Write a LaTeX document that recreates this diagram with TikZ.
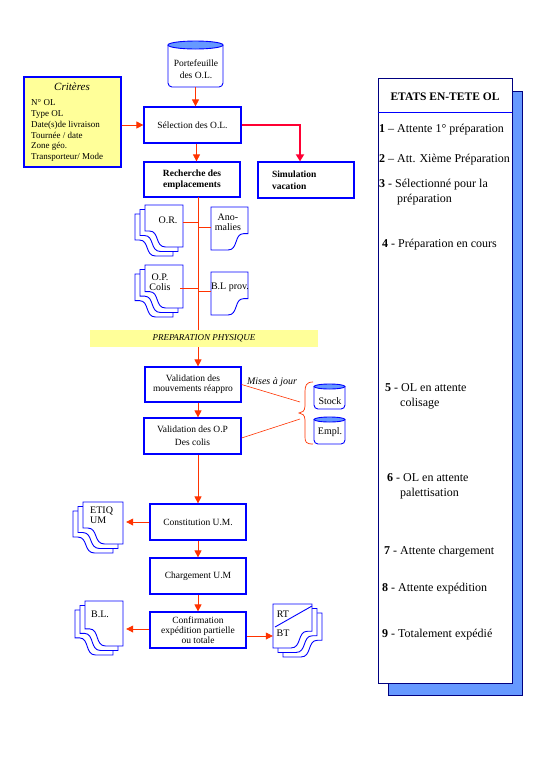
\documentclass[tikz,border=0pt]{standalone}
\usepackage{fontspec}
\setmainfont{Liberation Serif}
\usetikzlibrary{arrows.meta}

\definecolor{boxblue}{HTML}{0000FF}
\definecolor{flowred}{HTML}{FF3300}
\definecolor{simred}{HTML}{FF0033}
\definecolor{paleyellow}{HTML}{FFFF99}
\definecolor{capblue}{HTML}{6699FF}
\definecolor{panelnavy}{HTML}{000080}

% sheet of paper, curl at the bottom right (x, y of top left corner, width, height)
\newcommand\sheetR[4]{%
  \draw[sheetline] (#1,#2) -- (#1+#3,#2) -- (#1+#3,#2+0.62*#4)
    -- (#1+0.88*#3,#2+0.62*#4)
    .. controls (#1+0.62*#3,#2+0.62*#4) and (#1+0.74*#3,#2+#4) .. (#1+0.46*#3,#2+#4)
    -- (#1,#2+#4) -- cycle;}
% sheet of paper, curl at the bottom left
\newcommand\sheetL[4]{%
  \draw[sheetline] (#1,#2) -- (#1+#3,#2) -- (#1+#3,#2+#4)
    -- (#1+0.54*#3,#2+#4)
    .. controls (#1+0.26*#3,#2+#4) and (#1+0.38*#3,#2+0.62*#4) .. (#1+0.12*#3,#2+0.62*#4)
    -- (#1,#2+0.62*#4) -- cycle;}
% pile of three sheets, the back ones shifted left and down
\newcommand\pileL[4]{%
  \sheetL{#1-10}{#2+9}{#3}{#4}\sheetL{#1-5}{#2+4.5}{#3}{#4}\sheetL{#1}{#2}{#3}{#4}}
% pile of three sheets, the back ones shifted right and down
\newcommand\pileR[4]{%
  \sheetR{#1+10}{#2+9}{#3}{#4}\sheetR{#1+5}{#2+4.5}{#3}{#4}\sheetR{#1}{#2}{#3}{#4}}
% storage drum (x1, y1, x2, y2, half height of the lid)
\newcommand\drum[5]{%
  \draw[drumline, rounded corners=4pt] (#1,#2+#5) -- (#1,#4) -- (#3,#4) -- (#3,#2+#5);
  \draw[drumline, fill=capblue] ({(#1+#3)/2},#2+#5) ellipse [x radius={(#3-#1)/2}, y radius=#5];}

\begin{document}
\begin{tikzpicture}[x=1pt,y=-1pt,
  stepbox/.style={draw=boxblue, line width=1.2pt, fill=white, minimum width=96pt,
    minimum height=36pt, inner sep=1pt, align=center, font=\fontsize{9.5}{11}\selectfont},
  flow/.style={draw=flowred, line width=0.8pt, -{Triangle[width=7pt,length=7pt]}},
  simflow/.style={draw=simred, line width=1.8pt, -{Triangle[width=8pt,length=7pt]}},
  link/.style={draw=flowred, line width=0.7pt},
  sheetline/.style={draw=boxblue, line width=0.9pt, fill=white},
  drumline/.style={draw=boxblue, line width=0.9pt, fill=white},
  docarea/.style={inner sep=0pt, draw=none},
  doctext/.style={inner sep=0pt, font=\fontsize{10}{10}\selectfont},
  statetext/.style={anchor=west, inner sep=0pt, align=left, font=\fontsize{12}{15}\selectfont}]

\useasboundingbox (0,0) rectangle (540,780);
\fill[white] (0,0) rectangle (540,780);

% ---------- states panel ----------
\filldraw[fill=capblue, draw=panelnavy, line width=0.8pt] (388,91) rectangle (522,695);
\node[draw=panelnavy, line width=0.8pt, fill=white, minimum width=134pt,
  minimum height=605pt, inner sep=0pt] (panel) at (445,380.5) {};
\node[font=\bfseries\fontsize{11.5}{13}\selectfont] (head) at (445,97) {ETATS EN-TETE OL};
\coordinate (headrule) at (445,112);
\draw[boxblue, line width=0.8pt] (panel.west |- headrule) -- (panel.east |- headrule);

\node[statetext] (s1) at (379,130) {\textbf{1} – Attente 1° préparation};
\node[statetext] (s2) at (379,160) {\textbf{2} – Att. Xième Préparation};
\node[statetext] (s3) at (379,192.5) {\textbf{3} - Sélectionné pour la\\\hspace*{18pt}préparation};
\node[statetext] (s4) at (382,245) {\textbf{4} - Préparation en cours};
\node[statetext] (s5) at (385,396) {\textbf{5} - OL en attente\\\hspace*{15pt}colisage};
\node[statetext] (s6) at (387,486) {\textbf{6} - OL en attente\\\hspace*{13pt}palettisation};
\node[statetext] (s7) at (384,552) {\textbf{7} - Attente chargement};
\node[statetext] (s8) at (382,589) {\textbf{8} - Attente expédition};
\node[statetext] (s9) at (382,635) {\textbf{9} - Totalement expédié};

% ---------- order book and criteria ----------
\drum{168}{41}{223}{87}{4}
\node[docarea, minimum width=55pt, minimum height=46pt] (portf) at (195.5,64) {};
\node[inner sep=0pt, align=center, font=\fontsize{9.5}{12}\selectfont] (portlab) at (196,69) {Portefeuille\\des O.L.};

\node[draw=boxblue, line width=1.2pt, fill=paleyellow, minimum width=97pt,
  minimum height=90pt, inner sep=0pt] (crit) at (72.5,122) {};
\node[inner sep=0pt, font=\itshape\fontsize{11}{12}\selectfont] (crittitle) at (72,87) {Critères};
\node[anchor=north west, align=left, inner sep=0pt, font=\fontsize{9}{10.8}\selectfont]
  (critlist) at (31,99.5) {N° OL\\Type OL\\Date(s)de livraison\\Tournée / date\\Zone géo.\\Transporteur/ Mode};

% ---------- main steps ----------
\node[stepbox, minimum width=97pt] (sel) at (192.5,125) {Sélection des O.L.};
\node[stepbox, minimum height=35pt, font=\bfseries\fontsize{9.5}{11.5}\selectfont] (rech) at (192,179.5) {Recherche des\\emplacements};
\node[stepbox, text width=68pt, align=left, font=\bfseries\fontsize{9.5}{12}\selectfont] (sim) at (306,180) {Simulation\\vacation};

\coordinate (spinetop) at (198,197);
\coordinate (spinebot) at (198,330);
\draw[link] (spinetop) -- (spinebot);

% documents produced by the location search
\pileL{145}{205}{38}{42}
\node[doctext] (orlab) at (168,220) {O.R.};
\coordinate (orhook) at (183,222);
\sheetR{211}{207}{37}{43}
\node[doctext, align=center] (anom) at (228,222.5) {Ano-\\malies};
\coordinate (anomhook) at (211,227);
\pileL{145}{265}{38}{43}
\node[doctext, align=center] (oplab) at (160,282) {O.P.\\Colis};
\coordinate (ophook) at (180,288);
\sheetR{211}{272}{37}{43}
\node[doctext] (blprov) at (230,287) {B.L prov.};
\coordinate (blprovhook) at (211,291);

\draw[link] (orhook) -- (orhook -| spinetop);
\draw[link] (anomhook -| spinetop) -- (anomhook);
\draw[link] (ophook) -- (ophook -| spinetop);
\draw[link] (blprovhook -| spinetop) -- (blprovhook);

\node[fill=paleyellow, minimum width=228pt, minimum height=17pt, inner sep=0pt,
  font=\itshape\fontsize{9}{10}\selectfont] (band) at (204,338.5) {PREPARATION PHYSIQUE};

\node[stepbox, minimum height=35pt, font=\fontsize{9.5}{10}\selectfont] (valmvt) at (193,384.5) {Validation des\\mouvements réappro};
\node[stepbox, minimum width=97pt, font=\fontsize{9.5}{13}\selectfont] (valop) at (192.5,436) {Validation des O.P\\Des colis};

% stock updates
\node[inner sep=0pt, font=\itshape\fontsize{10}{11}\selectfont] (maj) at (272,382) {Mises à jour};
\drum{314}{384}{345}{409}{2.5}
\drum{314}{417}{345}{444}{2.5}
\node[doctext] (stocklab) at (330,401) {Stock};
\node[doctext] (empllab) at (330,432) {Empl.};
\draw[link] (313,382) .. controls (306,382) and (305,386) .. (305,392) -- (305,406)
  .. controls (305,411) and (302,413) .. (299,413)
  .. controls (302,413) and (305,415) .. (305,420) -- (305,437)
  .. controls (305,442) and (306,444) .. (313,444);
\coordinate (majin1) at (300,402);
\coordinate (majin2) at (300,419);
\draw[link, line width=0.6pt] (valmvt.east) -- (majin1);
\draw[link, line width=0.6pt] ([yshift=-2pt]valop.east) -- (majin2);

\node[stepbox] (const) at (198,522) {Constitution U.M.};
\node[stepbox] (charg) at (198,576) {Chargement U.M};
\node[stepbox, font=\fontsize{9.5}{10}\selectfont] (conf) at (198,630) {Confirmation\\expédition partielle\\ou totale};

% labels and delivery papers
\pileL{83}{502}{40}{42}
\node[docarea, minimum width=40pt, minimum height=42pt] (etiqpage) at (103,523) {};
\node[doctext, align=left, anchor=north west] (etiq) at (90,507) {ETIQ\\UM};
\pileL{85}{601}{38}{45}
\node[docarea, minimum width=38pt, minimum height=45pt] (blpage) at (104,623.5) {};
\node[doctext] (bl) at (100,614) {B.L.};
\pileR{273}{604}{39}{44}
\node[docarea, minimum width=39pt, minimum height=44pt] (rtbt) at (292.5,626) {};
\draw[boxblue, line width=0.9pt] (275,627) -- (312,606);
\node[doctext] (rt) at (283,614) {RT};
\node[doctext] (bt) at (283,633) {BT};

% ---------- connectors ----------
\draw[flow] (portf.south) -- (portf.south |- sel.north);
\draw[flow] (crit.east |- sel.west) -- (sel.west);
\draw[simflow] (sel.east) -| ([xshift=-6pt]sim.north);
\draw[flow] ([xshift=4pt]sel.south) -- ([xshift=4pt]sel.south |- rech.north);
\draw[flow] (band.south -| spinetop) -- (valmvt.north -| spinetop);
\draw[flow] (valmvt.south -| spinetop) -- (valop.north -| spinetop);
\draw[flow] (valop.south -| spinetop) -- (const.north);
\draw[flow] (const.south) -- (charg.north);
\draw[flow] (charg.south) -- (conf.north);
\draw[flow] (const.west) -- ([xshift=3pt]const.west -| etiqpage.east);
\draw[flow] ([yshift=1pt]conf.west) -- ([xshift=3pt,yshift=1pt]conf.west -| blpage.east);
\draw[flow] ([yshift=-6pt]conf.east) -- ([yshift=-6pt]conf.east -| rtbt.west);

\end{tikzpicture}
\end{document}
